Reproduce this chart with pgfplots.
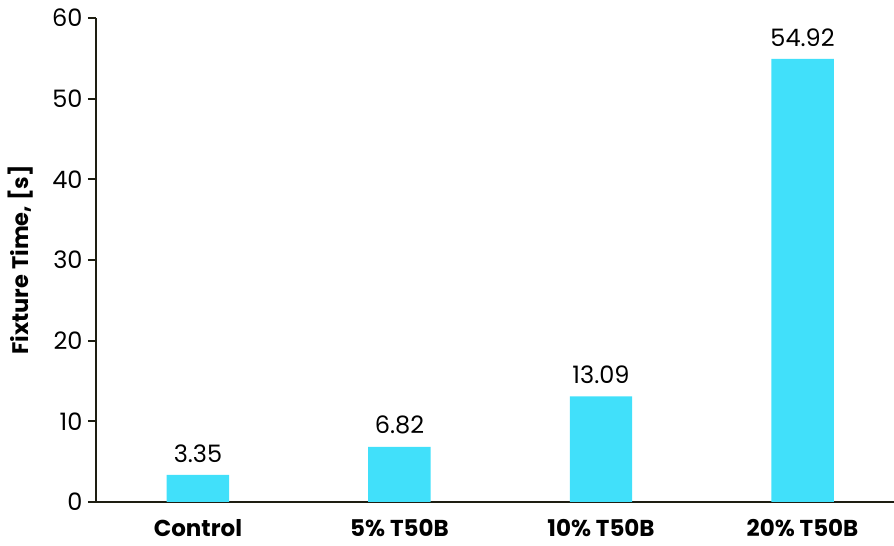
\documentclass[border=0pt]{standalone}
\usepackage{pgfplots}
\pgfplotsset{compat=1.18}
\usepackage{fontspec}
\setmainfont{Poppins}
\definecolor{barcyan}{HTML}{41E0FA}
\definecolor{axisdark}{HTML}{1E1E12}

\begin{document}
\begin{tikzpicture}
	\begin{axis}[
		name=ax,
		scale only axis,
		width=798pt, height=484pt,
		ymin=0, ymax=60,
		xmin=-0.506, xmax=3.454,
		ytick={0,10,...,60},
		xtick=data,
		xticklabels={Control, 5\% T50B, 10\% T50B, 20\% T50B},
		axis x line=bottom, axis y line=left,
		axis line style={line width=2.6pt, color=axisdark, -},
		x tick style={draw=none},
		y tick style={line width=2pt, color=axisdark},
		tick align=outside,
		major tick length=8pt,
		/pgf/number format/assume math mode=true,
		yticklabel style={font=\fontsize{24}{26}\selectfont, xshift=-2pt},
		xticklabel style={font=\fontsize{23}{25}\selectfont\bfseries, yshift=-6pt},
		ylabel={Fixture Time, [s]},
		ylabel style={font=\fontsize{22.5}{24}\selectfont\bfseries, yshift=12pt},
		nodes near coords,
		nodes near coords style={font=\fontsize{24}{26}\selectfont, yshift=9pt,
			/pgf/number format/fixed, /pgf/number format/fixed zerofill,
			/pgf/number format/precision=2},
		]
		% fixture time per blend
		\addplot[ybar, bar width=0.31, fill=barcyan, draw=none] coordinates {
			(0,3.35) (1,6.82) (2,13.09) (3,54.92)
		};
	\end{axis}
	\pgfresetboundingbox
	\path ([xshift=-96pt,yshift=-44pt]ax.south west) rectangle ([yshift=18pt]ax.north east);
\end{tikzpicture}
\end{document}
